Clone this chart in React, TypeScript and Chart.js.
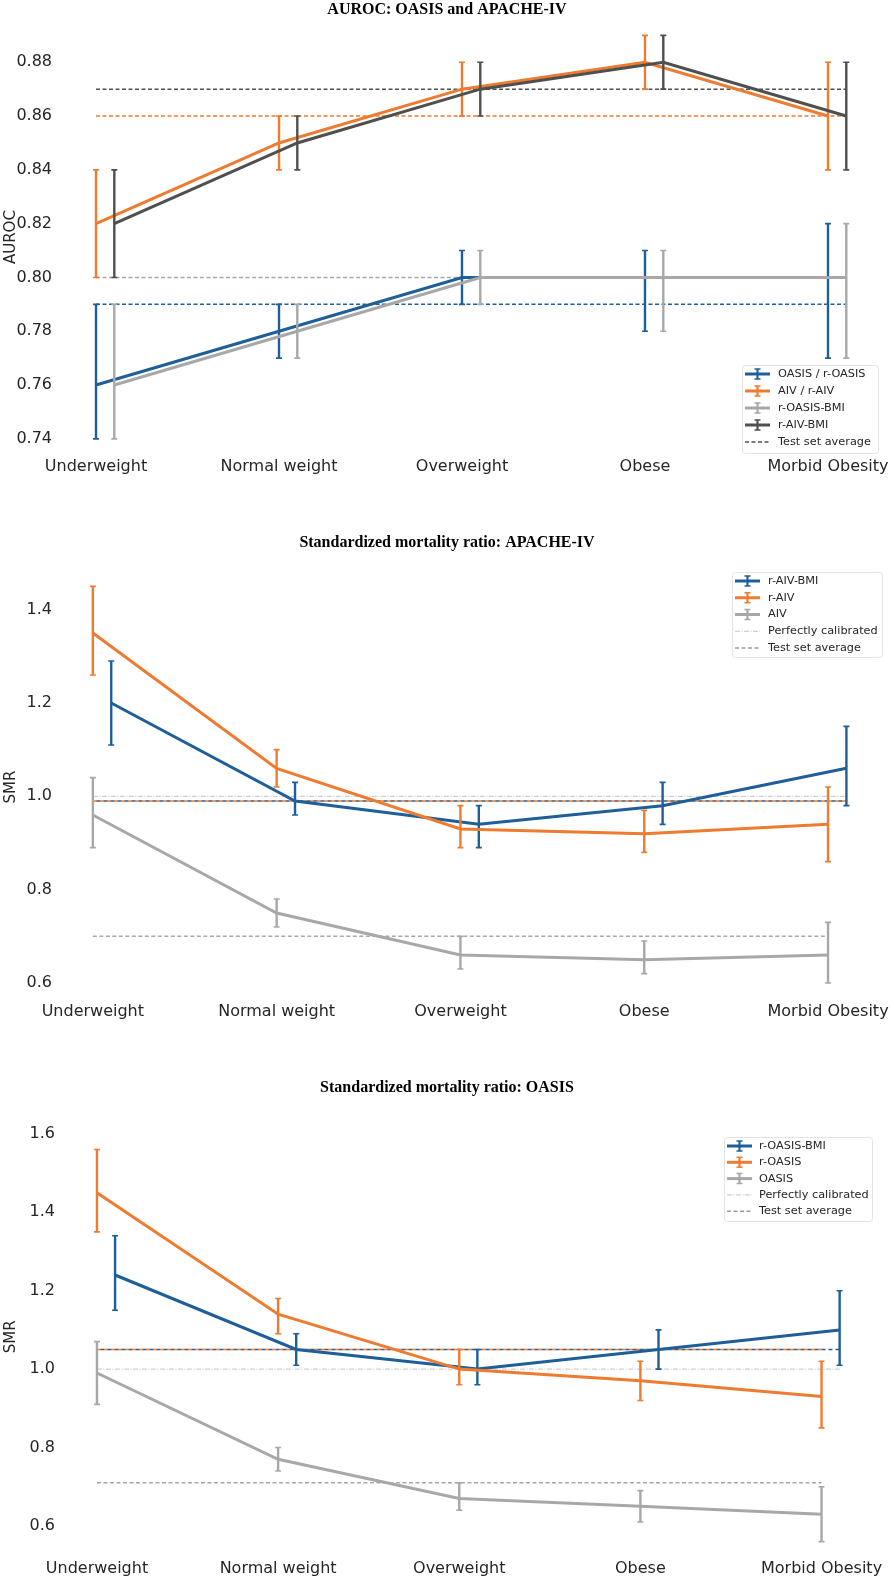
import React, { useEffect, useRef } from "react";
import { Chart, registerables } from "chart.js";

Chart.register(...registerables);
Chart.defaults.font.family = "'DejaVu Sans', sans-serif";
Chart.defaults.color = "#262626";

if (typeof document !== "undefined") document.body.style.margin = "0";

const categories = ["Underweight", "Normal weight", "Overweight", "Obese", "Morbid Obesity"];

// AUROC: OASIS and APACHE-IV
const aurocTicks = [0.74, 0.76, 0.78, 0.8, 0.82, 0.84, 0.86, 0.88];
const aurocOasis = [0.76, 0.78, 0.8, 0.8, 0.8];
const aurocOasisLo = [0.74, 0.77, 0.79, 0.78, 0.77];
const aurocOasisHi = [0.79, 0.79, 0.81, 0.81, 0.82];
const aurocAiv = [0.82, 0.85, 0.87, 0.88, 0.86];
const aurocAivLo = [0.8, 0.84, 0.86, 0.87, 0.84];
const aurocAivHi = [0.84, 0.86, 0.88, 0.89, 0.88];
const aurocOasisBmi = [0.76, 0.78, 0.8, 0.8, 0.8];
const aurocOasisBmiLo = [0.74, 0.77, 0.79, 0.78, 0.77];
const aurocOasisBmiHi = [0.79, 0.79, 0.81, 0.81, 0.82];
const aurocAivBmi = [0.82, 0.85, 0.87, 0.88, 0.86];
const aurocAivBmiLo = [0.8, 0.84, 0.86, 0.87, 0.84];
const aurocAivBmiHi = [0.84, 0.86, 0.88, 0.89, 0.88];
const aurocAvgOasis = 0.79;
const aurocAvgAiv = 0.86;
const aurocAvgOasisBmi = 0.8;
const aurocAvgAivBmi = 0.87;

// SMR: APACHE-IV
const smrAivTicks = [0.6, 0.8, 1.0, 1.2, 1.4];
const smrAivBmi = [1.2, 0.99, 0.94, 0.98, 1.06];
const smrAivBmiLo = [1.11, 0.96, 0.89, 0.94, 0.98];
const smrAivBmiHi = [1.29, 1.03, 0.98, 1.03, 1.15];
const smrRAiv = [1.35, 1.06, 0.93, 0.92, 0.94];
const smrRAivLo = [1.26, 1.02, 0.89, 0.88, 0.86];
const smrRAivHi = [1.45, 1.1, 0.98, 0.97, 1.02];
const smrAiv = [0.96, 0.75, 0.66, 0.65, 0.66];
const smrAivLo = [0.89, 0.72, 0.63, 0.62, 0.6];
const smrAivHi = [1.04, 0.78, 0.7, 0.69, 0.73];
const smrAivAvgBmi = 0.99;
const smrAivAvgR = 0.99;
const smrAivAvgBase = 0.7;

// SMR: OASIS
const smrOasisTicks = [0.6, 0.8, 1.0, 1.2, 1.4, 1.6];
const smrOasisBmi = [1.24, 1.05, 1.0, 1.05, 1.1];
const smrOasisBmiLo = [1.15, 1.01, 0.96, 1.0, 1.01];
const smrOasisBmiHi = [1.34, 1.09, 1.05, 1.1, 1.2];
const smrROasis = [1.45, 1.14, 1.0, 0.97, 0.93];
const smrROasisLo = [1.35, 1.09, 0.96, 0.92, 0.85];
const smrROasisHi = [1.56, 1.18, 1.05, 1.02, 1.02];
const smrOasis = [0.99, 0.77, 0.67, 0.65, 0.63];
const smrOasisLo = [0.91, 0.74, 0.64, 0.61, 0.56];
const smrOasisHi = [1.07, 0.8, 0.71, 0.69, 0.7];
const smrOasisAvgBmi = 1.05;
const smrOasisAvgR = 1.05;
const smrOasisAvgBase = 0.71;

const perfectlyCalibrated = 1.0;

const BLUE = "#1f5f99";
const ORANGE = "#ee7b2f";
const LIGHT = "#a8a8a8";
const DARK = "#4f4f4f";
const CALIB = "#c4c4c4";
const DODGE = 0.1;
const DASH = [4, 2.5];
const DASHDOT = [5, 1.5, 1, 1.5];

function series(label: string, values: number[], lo: number[], hi: number[], color: string, shift: number, order: number) {
  return {
    label,
    data: values.map((v, i) => ({ x: i + shift, y: v })),
    errLo: lo,
    errHi: hi,
    borderColor: color,
    backgroundColor: color,
    borderWidth: 3,
    pointRadius: 0,
    tension: 0,
    fill: false,
    order,
  };
}

function refLine(label: string, value: number, from: number, to: number, color: string, dash: number[], width: number, order: number, dashOffset = 0) {
  return {
    label,
    data: [
      { x: from, y: value },
      { x: to, y: value },
    ],
    borderColor: color,
    borderWidth: width,
    borderDash: dash,
    borderDashOffset: dashOffset,
    pointRadius: 0,
    fill: false,
    order,
  };
}

// draws the vertical error bars for each dataset that has errLo/errHi
const errorBars = {
  id: "errorBars",
  afterDatasetDraw(chart: any, args: any) {
    const ds = chart.data.datasets[args.index];
    if (!ds.errLo) return;
    const { ctx } = chart;
    const x = chart.scales.x;
    const y = chart.scales.y;
    ctx.save();
    ctx.strokeStyle = ds.borderColor;
    ds.data.forEach((pt: any, i: number) => {
      const px = x.getPixelForValue(pt.x);
      const top = y.getPixelForValue(ds.errHi[i]);
      const bot = y.getPixelForValue(ds.errLo[i]);
      ctx.lineWidth = 2.4;
      ctx.beginPath();
      ctx.moveTo(px, top);
      ctx.lineTo(px, bot);
      ctx.stroke();
      ctx.lineWidth = 1.6;
      ctx.beginPath();
      ctx.moveTo(px - 3, top);
      ctx.lineTo(px + 3, top);
      ctx.moveTo(px - 3, bot);
      ctx.lineTo(px + 3, bot);
      ctx.stroke();
    });
    ctx.restore();
  },
};

type LegendItem = { label: string; color: string; kind: "err" | "dash" | "dashdot" };
type LegendSpec = { x: number; y: number; w: number; h: number; first: number; rowH: number; textX: number; items: LegendItem[] };

function drawLegend(ctx: CanvasRenderingContext2D, spec: LegendSpec) {
  ctx.save();
  ctx.fillStyle = "rgba(255,255,255,0.85)";
  ctx.strokeStyle = "#e4e4e4";
  ctx.lineWidth = 1;
  ctx.beginPath();
  ctx.roundRect(spec.x + 0.5, spec.y + 0.5, spec.w, spec.h, 3);
  ctx.fill();
  ctx.stroke();
  ctx.font = "11.3px 'DejaVu Sans', sans-serif";
  ctx.textBaseline = "middle";
  ctx.textAlign = "left";
  spec.items.forEach((it, i) => {
    const cy = spec.y + spec.first + i * spec.rowH;
    const sx = spec.x + 3;
    const ex = sx + 25;
    ctx.strokeStyle = it.color;
    if (it.kind === "err") {
      ctx.setLineDash([]);
      ctx.lineWidth = 3;
      ctx.beginPath();
      ctx.moveTo(sx, cy);
      ctx.lineTo(ex, cy);
      ctx.stroke();
      const mx = (sx + ex) / 2;
      ctx.lineWidth = 2.2;
      ctx.beginPath();
      ctx.moveTo(mx, cy - 5);
      ctx.lineTo(mx, cy + 5);
      ctx.stroke();
      ctx.lineWidth = 1.5;
      ctx.beginPath();
      ctx.moveTo(mx - 3, cy - 5);
      ctx.lineTo(mx + 3, cy - 5);
      ctx.moveTo(mx - 3, cy + 5);
      ctx.lineTo(mx + 3, cy + 5);
      ctx.stroke();
    } else {
      ctx.setLineDash(it.kind === "dash" ? DASH : DASHDOT);
      ctx.lineWidth = it.kind === "dash" ? 1.5 : 1;
      ctx.beginPath();
      ctx.moveTo(sx, cy);
      ctx.lineTo(ex, cy);
      ctx.stroke();
      ctx.setLineDash([]);
    }
    ctx.fillStyle = "#262626";
    ctx.fillText(it.label, spec.textX, cy);
  });
  ctx.restore();
}

type PanelProps = {
  height: number;
  title: string;
  titlePad: { top: number; bottom: number };
  yLabel: string;
  yTicks: number[];
  yDigits: number;
  yMin: number;
  yMax: number;
  xMin: number;
  xMax: number;
  left: number;
  bottom: number;
  xTickPad: number;
  datasets: any[];
  legend: LegendSpec;
};

function Panel(props: PanelProps) {
  const canvasRef = useRef<HTMLCanvasElement>(null);

  useEffect(() => {
    const legendPlugin = {
      id: "boxLegend",
      afterDraw(chart: any) {
        drawLegend(chart.ctx, props.legend);
      },
    };
    const chart = new Chart(canvasRef.current!, {
      type: "line",
      data: { datasets: props.datasets },
      plugins: [errorBars, legendPlugin],
      options: {
        responsive: true,
        maintainAspectRatio: false,
        animation: false,
        layout: { padding: 0 },
        plugins: {
          legend: { display: false },
          tooltip: { enabled: false },
          title: {
            display: true,
            text: props.title,
            color: "#000",
            font: { family: "'Liberation Serif', serif", size: 16, weight: "bold" },
            padding: props.titlePad,
          },
        },
        scales: {
          x: {
            type: "linear",
            min: props.xMin,
            max: props.xMax,
            grid: { display: false, drawTicks: false },
            border: { display: false },
            afterBuildTicks: (s: any) => {
              s.ticks = categories.map((_, i) => ({ value: i }));
            },
            afterFit: (s: any) => {
              s.height = props.height - props.bottom;
            },
            ticks: {
              callback: (v: any) => categories[v] ?? "",
              font: { size: 16 },
              padding: props.xTickPad,
              autoSkip: false,
              maxRotation: 0,
            },
          },
          y: {
            type: "linear",
            min: props.yMin,
            max: props.yMax,
            grid: { display: false, drawTicks: false },
            border: { display: false },
            afterBuildTicks: (s: any) => {
              s.ticks = props.yTicks.map((value) => ({ value }));
            },
            afterFit: (s: any) => {
              s.width = props.left;
            },
            ticks: {
              callback: (v: any) => Number(v).toFixed(props.yDigits),
              font: { size: 16 },
              padding: 4,
            },
            title: {
              display: true,
              text: props.yLabel,
              font: { size: 15 },
              padding: { top: 2, bottom: 0 },
            },
          },
        },
      } as any,
    });
    return () => chart.destroy();
  }, []);

  return (
    <div style={{ position: "relative", width: 894, height: props.height }}>
      <canvas ref={canvasRef} />
    </div>
  );
}

const aurocDatasets = [
  refLine("Test set average", aurocAvgOasis, 0, 4.1, BLUE, DASH, 1.5, 10),
  refLine("Test set average", aurocAvgAiv, 0, 4.1, ORANGE, DASH, 1.5, 10),
  refLine("Test set average", aurocAvgOasisBmi, 0, 4.1, LIGHT, DASH, 1.5, 10),
  refLine("Test set average", aurocAvgAivBmi, 0, 4.1, DARK, DASH, 1.5, 10),
  series("OASIS / r-OASIS", aurocOasis, aurocOasisLo, aurocOasisHi, BLUE, 0, 4),
  series("AIV / r-AIV", aurocAiv, aurocAivLo, aurocAivHi, ORANGE, 0, 3),
  series("r-OASIS-BMI", aurocOasisBmi, aurocOasisBmiLo, aurocOasisBmiHi, LIGHT, DODGE, 2),
  series("r-AIV-BMI", aurocAivBmi, aurocAivBmiLo, aurocAivBmiHi, DARK, DODGE, 1),
];

const smrAivDatasets = [
  refLine("Perfectly calibrated", perfectlyCalibrated, 0, 4.1, CALIB, DASHDOT, 1, 11),
  refLine("Test set average", smrAivAvgBmi, 0, 4.1, BLUE, [4, 3], 1.5, 10, 3.5),
  refLine("Test set average", smrAivAvgR, 0, 4.1, ORANGE, [4, 3], 1.5, 9),
  refLine("Test set average", smrAivAvgBase, 0, 4.0, LIGHT, DASH, 1.5, 10),
  series("r-AIV-BMI", smrAivBmi, smrAivBmiLo, smrAivBmiHi, BLUE, DODGE, 3),
  series("r-AIV", smrRAiv, smrRAivLo, smrRAivHi, ORANGE, 0, 2),
  series("AIV", smrAiv, smrAivLo, smrAivHi, LIGHT, 0, 1),
];

const smrOasisDatasets = [
  refLine("Perfectly calibrated", perfectlyCalibrated, 0, 4.1, CALIB, DASHDOT, 1, 11),
  refLine("Test set average", smrOasisAvgBmi, 0, 4.1, BLUE, [4, 3], 1.5, 10, 3.5),
  refLine("Test set average", smrOasisAvgR, 0, 4.0, ORANGE, [4, 3], 1.5, 9),
  refLine("Test set average", smrOasisAvgBase, 0, 4.0, LIGHT, DASH, 1.5, 10),
  series("r-OASIS-BMI", smrOasisBmi, smrOasisBmiLo, smrOasisBmiHi, BLUE, DODGE, 3),
  series("r-OASIS", smrROasis, smrROasisLo, smrROasisHi, ORANGE, 0, 2),
  series("OASIS", smrOasis, smrOasisLo, smrOasisHi, LIGHT, 0, 1),
];

export default function App() {
  return (
    <div style={{ width: 894, background: "#fff" }}>
      <Panel
        height={520}
        title="AUROC: OASIS and APACHE-IV"
        titlePad={{ top: 0, bottom: 0 }}
        yLabel="AUROC"
        yTicks={aurocTicks}
        yDigits={2}
        yMin={0.734}
        yMax={0.896}
        xMin={-0.2186}
        xMax={4.3607}
        left={56}
        bottom={455}
        xTickPad={2.4}
        datasets={aurocDatasets}
        legend={{
          x: 742,
          y: 365,
          w: 136,
          h: 88,
          first: 9,
          rowH: 17,
          textX: 778,
          items: [
            { label: "OASIS / r-OASIS", color: BLUE, kind: "err" },
            { label: "AIV / r-AIV", color: ORANGE, kind: "err" },
            { label: "r-OASIS-BMI", color: LIGHT, kind: "err" },
            { label: "r-AIV-BMI", color: DARK, kind: "err" },
            { label: "Test set average", color: DARK, kind: "dash" },
          ],
        }}
      />
      <Panel
        height={540}
        title="Standardized mortality ratio: APACHE-IV"
        titlePad={{ top: 13.4, bottom: 24.4 }}
        yLabel="SMR"
        yTicks={smrAivTicks}
        yDigits={1}
        yMin={0.57}
        yMax={1.47}
        xMin={-0.2005}
        xMax={4.3415}
        left={56}
        bottom={477}
        xTickPad={5.4}
        datasets={smrAivDatasets}
        legend={{
          x: 732,
          y: 52,
          w: 150,
          h: 85,
          first: 9,
          rowH: 16.75,
          textX: 768,
          items: [
            { label: "r-AIV-BMI", color: BLUE, kind: "err" },
            { label: "r-AIV", color: ORANGE, kind: "err" },
            { label: "AIV", color: LIGHT, kind: "err" },
            { label: "Perfectly calibrated", color: CALIB, kind: "dashdot" },
            { label: "Test set average", color: "#999999", kind: "dash" },
          ],
        }}
      />
      <Panel
        height={520}
        title="Standardized mortality ratio: OASIS"
        titlePad={{ top: 18.4, bottom: 28.4 }}
        yLabel="SMR"
        yTicks={smrOasisTicks}
        yDigits={1}
        yMin={0.545}
        yMax={1.62}
        xMin={-0.2096}
        xMax={4.396}
        left={59}
        bottom={487.5}
        xTickPad={11.9}
        datasets={smrOasisDatasets}
        legend={{
          x: 724,
          y: 77,
          w: 148,
          h: 84,
          first: 9,
          rowH: 16.3,
          textX: 759,
          items: [
            { label: "r-OASIS-BMI", color: BLUE, kind: "err" },
            { label: "r-OASIS", color: ORANGE, kind: "err" },
            { label: "OASIS", color: LIGHT, kind: "err" },
            { label: "Perfectly calibrated", color: CALIB, kind: "dashdot" },
            { label: "Test set average", color: "#999999", kind: "dash" },
          ],
        }}
      />
    </div>
  );
}
